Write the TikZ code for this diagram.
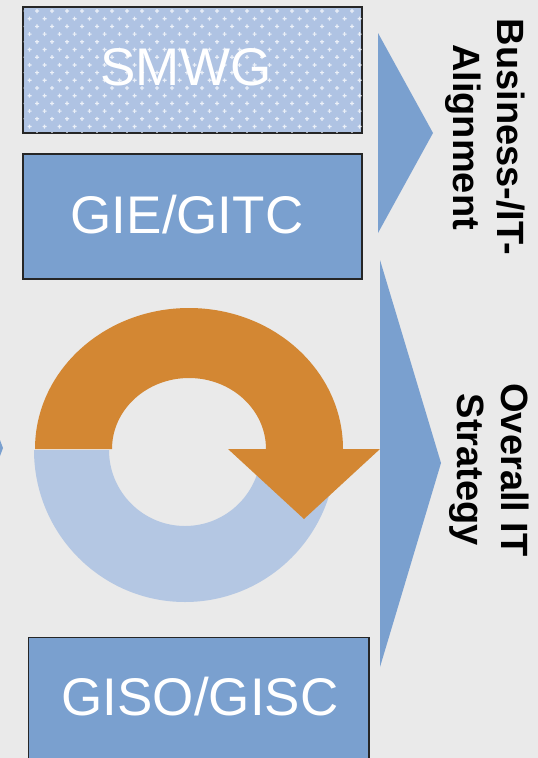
\documentclass[tikz,border=0pt]{standalone}
\usepackage{fontspec}
\setmainfont{Liberation Sans}
\usepackage{xcolor}
\usepackage{tikz}
\definecolor{bgGrey}{HTML}{EAEAEA}
\definecolor{boxBlue}{HTML}{7AA0CF}
\definecolor{dotBlue}{HTML}{AFC3E3}
\definecolor{ringBlue}{HTML}{B4C7E3}
\definecolor{ringOrange}{HTML}{D38733}
\tikzset{
    box/.style = {rectangle, draw=black!85, line width=1.3pt, fill=boxBlue, inner sep=0pt},
    boxtext/.style = {text=white, inner sep=0pt, font=\fontsize{53}{60}\selectfont},
    sidetext/.style = {align=center, inner sep=0pt, rotate=-90, font=\fontsize{38}{44}\selectfont\bfseries},
    chevron/.style = {fill=boxBlue, draw=none}
}

\begin{document}
\begin{tikzpicture}[x=1pt, y=-1pt]
    \useasboundingbox (0,0) rectangle (538,758);
    \clip (0,0) rectangle (538,758);
    \fill[bgGrey] (0,0) rectangle (538,758);

    % boxes
    \node [box, fill=dotBlue, minimum width=339, minimum height=126] (smwg) at (192.5,70) {};
    \begin{scope}
        \clip (23.5,7.5) rectangle (361.5,132.5);
        \foreach \r in {0,...,16} {
            \pgfmathsetmacro{\off}{mod(\r,2)*7.5}
            \foreach \c in {0,...,23} {
                \fill[white!75!dotBlue] (22+\off+\c*15,11+\r*7.7) +(-2,-0.6) rectangle +(2,0.6) +(-0.6,-2) rectangle +(0.6,2);
            }
        }
    \end{scope}
    \draw[black!85, line width=1.3pt] (smwg.north west) rectangle (smwg.south east);
    \node [boxtext] (smwgtext) at (186,67) {SMWG};

    \node [box, minimum width=339, minimum height=125] (gie) at (192.5,216.5) {};
    \node [boxtext] (gietext) at (187,215) {GIE/GITC};

    \node [box, anchor=north, minimum width=340.5, minimum height=160] (giso) at (198.75,637) {};
    \node [boxtext] (gisotext) at (200,697) {GISO/GISC};

    % chevrons
    \fill[chevron] (378,33) -- (433,133) -- (378,233) -- cycle;
    \fill[chevron] (380,260) -- (441,463) -- (380,667) -- cycle;
    \fill[chevron] (0,440) -- (3,448) -- (0,456) -- cycle;

    % cycle arrow
    \fill[ringBlue] (34,450) arc[start angle=180, end angle=0, x radius=151, y radius=152]
        -- (261,450) arc[start angle=0, end angle=180, x radius=76, y radius=76] -- cycle;
    \fill[ringOrange] (35,449) arc[start angle=180, end angle=360, x radius=154, y radius=141]
        -- (380,449) -- (304,519) -- (228,449) -- (266,449)
        arc[start angle=360, end angle=180, x radius=77, y radius=71] -- cycle;

    % labels
    \node [sidetext] (align) at (485,137) {Business-/IT-\\Alignment};
    \node [sidetext] (strategy) at (489,470) {Overall IT\\Strategy};
\end{tikzpicture}
\end{document}
